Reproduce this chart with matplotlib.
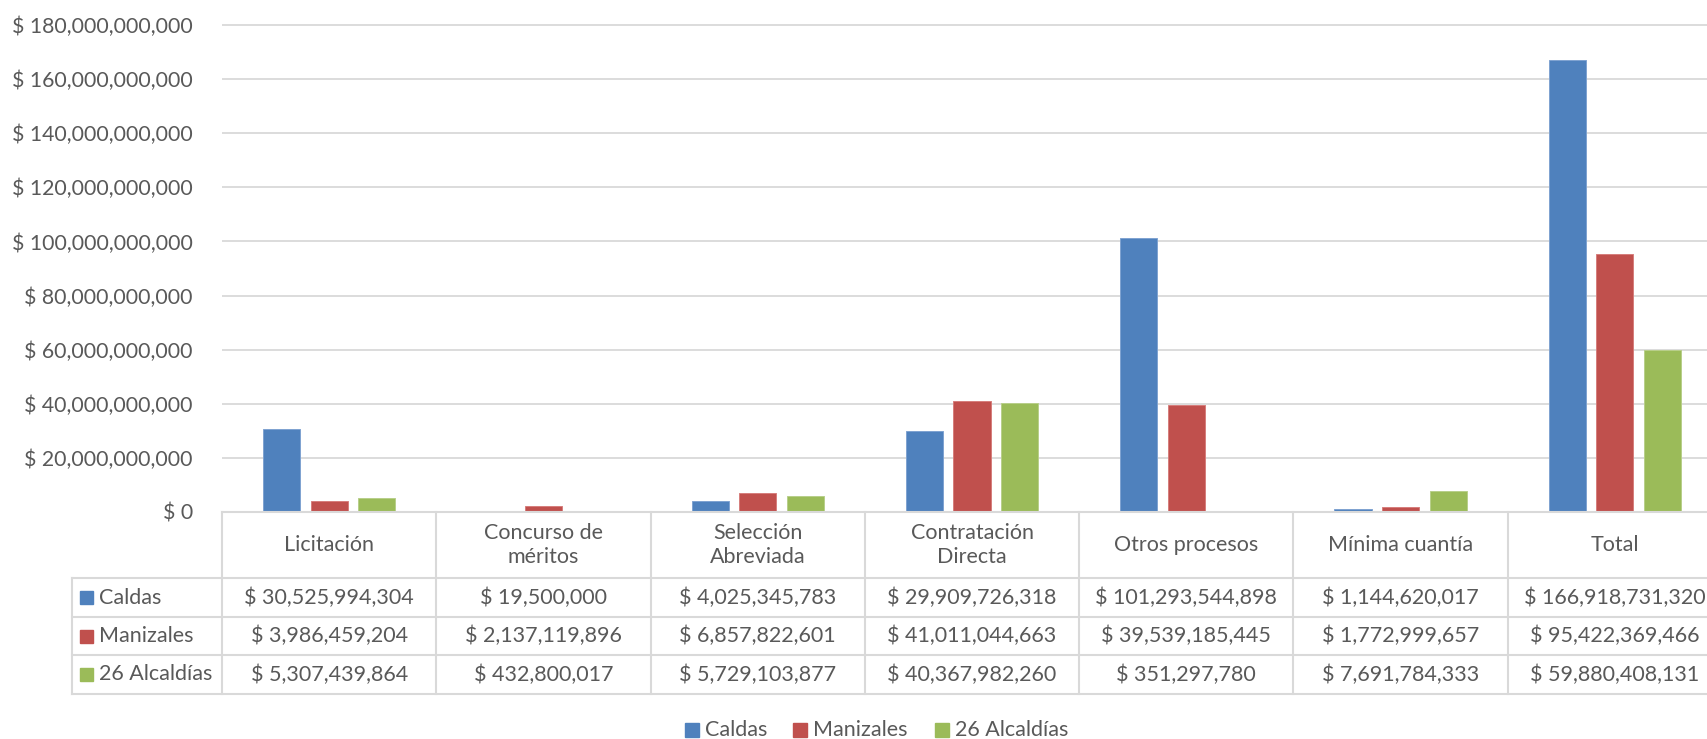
import matplotlib
matplotlib.use("Agg")
import matplotlib.pyplot as plt
from matplotlib.transforms import blended_transform_factory
from matplotlib.patches import Rectangle
import numpy as np

# ---------------- data ----------------
categories = ["Licitación", "Concurso de\nméritos", "Selección\nAbreviada",
              "Contratación\nDirecta", "Otros procesos", "Mínima cuantía", "Total"]
series_names = ["Caldas", "Manizales", "26 Alcaldías"]
caldas = [30525994304, 19500000, 4025345783, 29909726318, 101293544898, 1144620017, 166918731320]
manizales = [3986459204, 2137119896, 6857822601, 41011044663, 39539185445, 1772999657, 95422369466]
alcaldias = [5307439864, 432800017, 5729103877, 40367982260, 351297780, 7691784333, 59880408131]
yticks = [0, 20e9, 40e9, 60e9, 80e9, 100e9, 120e9, 140e9, 160e9, 180e9]

colors = ["#4F81BD", "#C0504D", "#9BBB59"]
edgecolors = ["#7FA3D1", "#D67E7C", "#B8CF8A"]
series = [caldas, manizales, alcaldias]

plt.rcParams['font.family'] = ['Lato', 'DejaVu Sans']
TXT = "#595959"
GRID = "#D9D9D9"

W, H = 1707, 739
fig = plt.figure(figsize=(W / 100, H / 100), dpi=100)

# plot area in pixels
left_px, right_px = 222, 1722
top_px, zero_px = 25, 512
ymax = 182e9
h_px = (zero_px - top_px) * ymax / 180e9
ax = fig.add_axes([left_px / W, 1 - zero_px / H, (right_px - left_px) / W, h_px / H])
ax.set_xlim(-0.5, len(categories) - 0.5)
ax.set_ylim(0, ymax)
for s in ax.spines.values():
    s.set_visible(False)
ax.set_xticks([])
ax.set_yticks(yticks)
ax.set_yticklabels(["$ {:,.0f}".format(v) for v in yticks])
ax.tick_params(axis='y', length=0, pad=21, labelsize=15.3, labelcolor=TXT)
ax.yaxis.grid(True, color=GRID, lw=1.3)
ax.set_axisbelow(True)

x = np.arange(len(categories))
offset, bw = 0.222, 0.173
for i, vals in enumerate(series):
    ax.bar(x + (i - 1) * offset, vals, width=bw, color=colors[i],
           edgecolor=edgecolors[i], linewidth=0.7, zorder=3)

# ---------------- data table overlay ----------------
tab = fig.add_axes([0, 0, 1, 1], facecolor="none")
tab.set_xlim(0, W)
tab.set_ylim(H, 0)
tab.axis('off')
bt = blended_transform_factory(ax.transData, tab.transData)

row_y = [512, 578, 617, 655, 694]
label_left = 72
LW = 1.5
ncol = len(categories)
xr = ncol - 0.5 + 0.3
# horizontal lines
tab.plot([-0.5, xr], [row_y[0]] * 2, transform=bt, color=GRID, lw=LW, zorder=5)
for yy in row_y[1:]:
    tab.plot([label_left, W + 5], [yy, yy], color=GRID, lw=LW, zorder=5)
# vertical lines
tab.plot([label_left, label_left], [row_y[1], row_y[-1]], color=GRID, lw=LW)
for k in range(ncol + 1):
    tab.plot([k - 0.5, k - 0.5], [row_y[0], row_y[-1]], transform=bt, color=GRID, lw=LW)

FS = 15.5
head_c = (row_y[0] + row_y[1]) / 2
for k, c in enumerate(categories):
    tab.text(k, head_c, c, transform=bt, ha='center', va='center',
             fontsize=FS, color=TXT, linespacing=1.25)

for r, (name, vals) in enumerate(zip(series_names, series)):
    yc = (row_y[r + 1] + row_y[r + 2]) / 2
    tab.add_patch(Rectangle((80, yc - 6.5), 13, 13, color=colors[r]))
    tab.text(99, yc, name, ha='left', va='center', fontsize=FS, color=TXT)
    for k, v in enumerate(vals):
        tab.text(k, yc, "$ {:,}".format(v), transform=bt, ha='center', va='center',
                 fontsize=FS, color=TXT)

# ---------------- legend ----------------
leg_y = 730
leg_sq = [685, 793, 935]
for r, name in enumerate(series_names):
    tab.add_patch(Rectangle((leg_sq[r], leg_y - 7), 14, 14, color=colors[r]))
    tab.text(leg_sq[r] + 20, leg_y, name, ha='left', va='center', fontsize=FS, color=TXT)

fig.savefig("out.png", dpi=100)
